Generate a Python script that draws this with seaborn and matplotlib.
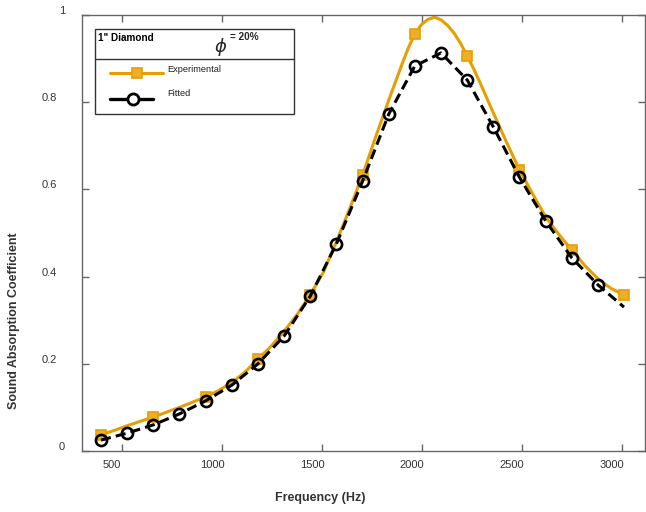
import matplotlib

matplotlib.use('Agg')

import matplotlib.pyplot as plt
import matplotlib.transforms as mtransforms
from matplotlib.lines import Line2D
from matplotlib.patches import Rectangle
import seaborn as sns

# Fitted curve (one circle per point, last point has no marker)
fitted_freq = [395, 526, 657, 787, 918, 1049, 1180, 1311, 1441, 1572, 1703,
               1834, 1964, 2095, 2226, 2357, 2487, 2618, 2749, 2880, 3010]
fitted_alpha = [0.025, 0.041, 0.060, 0.085, 0.115, 0.151, 0.200, 0.264, 0.355, 0.475, 0.619,
                0.773, 0.883, 0.913, 0.851, 0.743, 0.628, 0.528, 0.443, 0.381, 0.330]

# Experimental curve
exp_freq = [395, 460, 526, 591, 657, 722, 787, 853, 918, 984, 1049, 1115, 1180, 1245,
            1311, 1376, 1441, 1507, 1572, 1638, 1703, 1768, 1834, 1899, 1932, 1964, 1997,
            2030, 2063, 2095, 2128, 2161, 2193, 2226, 2259, 2291, 2357, 2422, 2487, 2553,
            2618, 2684, 2749, 2815, 2880, 2945, 3010]
exp_alpha = [0.037, 0.047, 0.058, 0.068, 0.078, 0.089, 0.100, 0.112, 0.124, 0.139, 0.157,
             0.181, 0.211, 0.240, 0.275, 0.313, 0.358, 0.410, 0.480, 0.555, 0.633, 0.720,
             0.805, 0.886, 0.925, 0.956, 0.978, 0.990, 0.995, 0.989, 0.976, 0.958, 0.935,
             0.906, 0.876, 0.844, 0.775, 0.709, 0.645, 0.590, 0.537, 0.497, 0.461, 0.425,
             0.395, 0.373, 0.358]
# frequencies where the square markers sit
square_freq = [395, 657, 918, 1180, 1441, 1703, 1964, 2226, 2487, 2749, 3010]

x_ticks = [500, 1000, 1500, 2000, 2500, 3000]
y_ticks = [0, 0.2, 0.4, 0.6, 0.8, 1]
y_tick_labels = ["0", "0.2", "0.4", "0.6", "0.8", "1"]

ORANGE = '#E69F00'
SQUARE_FACE = '#EDAE2A'
SPINE = '#666666'
TEXT = '#333333'

sns.set_style("ticks")
plt.rcParams['font.family'] = ['Liberation Sans', 'DejaVu Sans']

W, H = 646, 512
fig = plt.figure(figsize=(W / 100, H / 100), dpi=100)
ax = fig.add_axes([82 / W, 61 / H, 563 / W, 436 / H])

sns.lineplot(x=exp_freq, y=exp_alpha, ax=ax, color=ORANGE, linewidth=2.2,
             marker='s', markersize=7.5, markevery=[exp_freq.index(f) for f in square_freq],
             mfc=SQUARE_FACE, mec=ORANGE, mew=1.2, zorder=2)
sns.lineplot(x=fitted_freq, y=fitted_alpha, ax=ax, color='black', linewidth=2.2,
             linestyle=(0, (3.3, 1.7)), marker='o', markersize=8, mfc='none', mec='black',
             mew=1.9, markevery=list(range(len(fitted_freq) - 1)), zorder=3)

ax.set_xlim(300, 3115)
ax.set_ylim(0, 1)
ax.set_xticks(x_ticks)
ax.set_xticklabels([str(t) for t in x_ticks])
ax.set_yticks(y_ticks)
ax.set_yticklabels(y_tick_labels)

for s in ax.spines.values():
    s.set_visible(True)
    s.set_color(SPINE)
    s.set_linewidth(1.0)

ax.tick_params(axis='both', direction='in', top=True, right=True, length=5,
               width=1, color=SPINE, labelsize=8, labelcolor=TEXT)
ax.tick_params(axis='x', pad=6.5)
ax.tick_params(axis='y', pad=18)

# tick labels sit a bit off their ticks in the original
for lbl in ax.get_xticklabels():
    lbl.set_transform(lbl.get_transform() +
                      mtransforms.ScaledTranslation(-0.10, 0, fig.dpi_scale_trans))
for lbl, txt in zip(ax.get_yticklabels(), y_tick_labels):
    dx = 0.08 if len(txt) == 1 else 0.0
    lbl.set_transform(lbl.get_transform() +
                      mtransforms.ScaledTranslation(dx, 0.05, fig.dpi_scale_trans))

ax.set_xlabel("Frequency (Hz)", fontsize=9, fontweight='bold', color=TEXT)
ax.set_ylabel("Sound Absorption Coefficient", fontsize=9, fontweight='bold', color=TEXT)
ax.xaxis.set_label_coords((320 - 82) / 563, -(492 - 451) / 436)
ax.yaxis.set_label_coords(-(82 - 20) / 563, (451 - 321) / 436)


# legend box, laid out in pixel positions of the figure
def fx(x):
    return x / W


def fy(y):
    return 1 - y / H


fig.add_artist(Rectangle((fx(95), fy(114)), fx(294) - fx(95), fy(29) - fy(114),
                         transform=fig.transFigure, facecolor='white',
                         edgecolor='#333333', linewidth=1, zorder=5))
fig.add_artist(Line2D([fx(95), fx(294)], [fy(59), fy(59)], transform=fig.transFigure,
                      color='#333333', linewidth=1, zorder=6))
fig.text(fx(98), fy(38), '1" Diamond', fontsize=7.2, fontweight='bold', va='center',
         color='black', zorder=6)
fig.text(fx(221), fy(47), r'$\phi$', fontsize=13, ha='center', va='center', zorder=6)
fig.text(fx(230), fy(37), '= 20%', fontsize=7.2, fontweight='bold', va='center', zorder=6)

fig.add_artist(Line2D([fx(110), fx(163)], [fy(73), fy(73)], transform=fig.transFigure,
                      color=ORANGE, linewidth=2.2, zorder=6))
fig.add_artist(Line2D([fx(137)], [fy(73)], transform=fig.transFigure, marker='s',
                      markersize=7.5, mfc=SQUARE_FACE, mec=ORANGE, mew=1.2, zorder=7))
fig.text(fx(167), fy(70), 'Experimental', fontsize=6.7, va='center', color='#222222', zorder=6)

fig.add_artist(Line2D([fx(110), fx(153)], [fy(99), fy(99)], transform=fig.transFigure,
                      color='black', linewidth=2.4, zorder=6))
fig.add_artist(Line2D([fx(133)], [fy(99)], transform=fig.transFigure, marker='o',
                      markersize=8, mfc='white', mec='black', mew=2.0, zorder=7))
fig.text(fx(167), fy(94), 'Fitted', fontsize=6.7, va='center', color='#222222', zorder=6)

fig.savefig("out.png", dpi=100)
